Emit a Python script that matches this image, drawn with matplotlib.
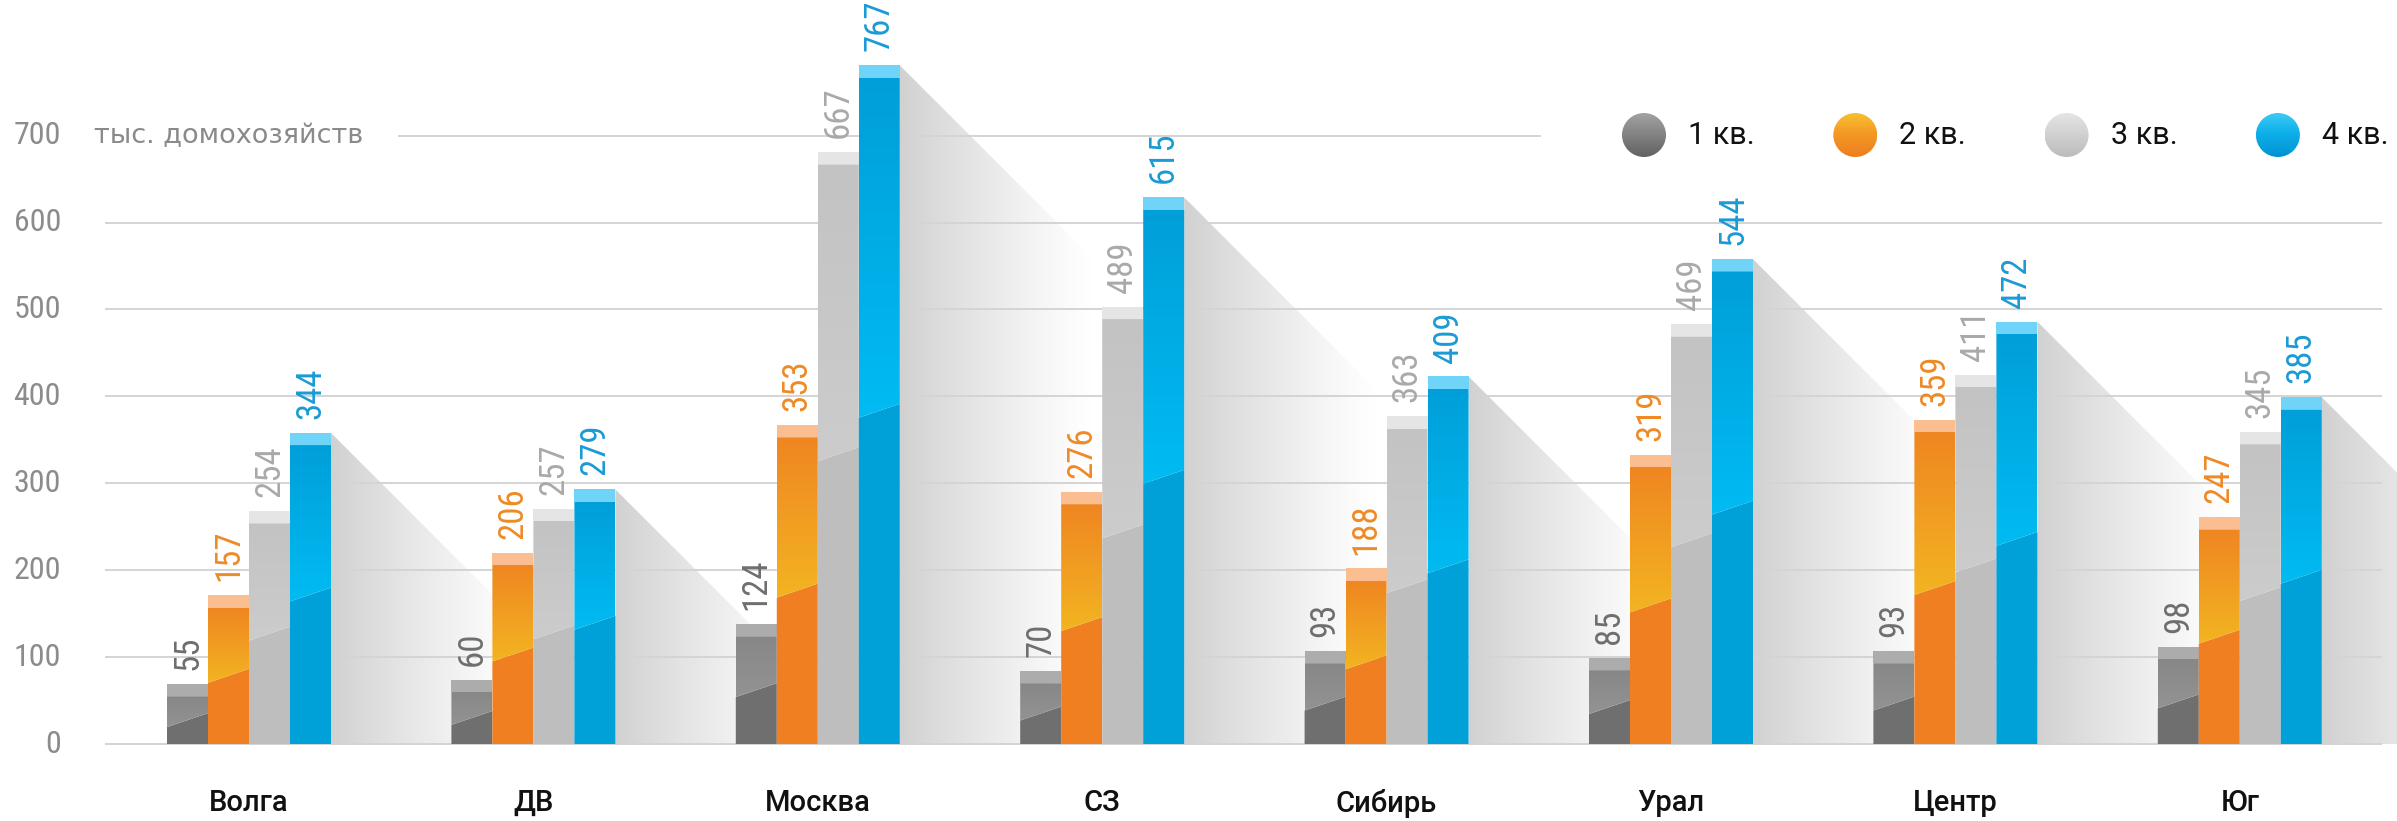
import numpy as np
import matplotlib
matplotlib.use("Agg")
import matplotlib.pyplot as plt
from matplotlib import font_manager as fm
from matplotlib.patches import Polygon, Ellipse, Rectangle
from matplotlib.colors import to_rgb

# ── Data ──────────────────────────────────────────────────────────────────────
regions = ["Волга", "ДВ", "Москва", "СЗ", "Сибирь", "Урал", "Центр", "Юг"]
q1 = [55, 60, 124, 70, 93, 85, 93, 98]
q2 = [157, 206, 353, 276, 188, 319, 359, 247]
q3 = [254, 257, 667, 489, 363, 469, 411, 345]
q4 = [344, 279, 767, 615, 409, 544, 472, 385]
series_names = ["1 кв.", "2 кв.", "3 кв.", "4 кв."]
y_ticks = [0, 100, 200, 300, 400, 500, 600, 700]
unit_label = "тыс. домохозяйств"

# ── Styles ────────────────────────────────────────────────────────────────────
STYLE = [
    dict(low="#6f6f6f", up_b="#939393", up_t="#878787", cap="#acacac",
         txt="#6e6e6e", sph=("#a2a2a2", "#858585", "#626262")),
    dict(low="#ef7f21", up_b="#f3b421", up_t="#ef8622", cap="#fbbe90",
         txt="#ef8a25", sph=("#f9c030", "#f39a25", "#ee7d1f")),
    dict(low="#bebebe", up_b="#cccccc", up_t="#c3c3c3", cap="#e5e5e5",
         txt="#a9a9a9", sph=("#e4e4e4", "#d2d2d2", "#bcbcbc")),
    dict(low="#00a0d9", up_b="#00bbf2", up_t="#009fd9", cap="#70d4f8",
         txt="#1a9ad5", sph=("#3ccaf5", "#0eb0ea", "#0092d3")),
]

# ── Geometry (pixels of the 2397x821 picture) ─────────────────────────────────
W_PX, H_PX = 2397, 821
X0_PX, GROUP_PX = 249, 284.4     # first group centre, group spacing
Y0_PX, UNIT_PX = 744, 0.869      # baseline, pixels per value unit


def px_x(p):
    return (p - X0_PX) / GROUP_PX


def px_y(p):
    return (Y0_PX - p) / UNIT_PX


BAR_W = 41 / GROUP_PX
CAP = 14            # light cap on top of each bar (value units)
SPLIT = 0.50        # diagonal shading split as share of bar height
RISE = 16           # diagonal rise across one bar (value units)
SLOPE = GROUP_PX / UNIT_PX   # 45 degrees on screen
FADE = 0.68         # shadow fade length (groups)


# ── Fonts ─────────────────────────────────────────────────────────────────────
def narrow_path():
    fl = fm.fontManager.ttflist
    for name in ["Liberation Sans Narrow", "Roboto Condensed",
                 "Open Sans Condensed", "DejaVu Sans Condensed"]:
        for f in fl:
            if f.name == name and f.style == "normal" and f.weight in (400, "normal", "regular", "book"):
                return f.fname
    for f in fl:
        if (f.stretch == "condensed" and f.style == "normal" and "Sans" in f.name
                and "Mono" not in f.name and f.weight in (400, "normal", "regular", "book")):
            return f.fname
    return None


NARROW = narrow_path()


def nfont(size):
    if NARROW:
        return fm.FontProperties(fname=NARROW, size=size)
    return fm.FontProperties(family="DejaVu Sans", size=size * 0.75)


# ── Drawing helpers ───────────────────────────────────────────────────────────
def vgrad(ax, x0, x1, y0, y1, c_top, c_bot, clip, z):
    n = 64
    t = np.linspace(0, 1, n)[:, None, None]
    arr = np.array(to_rgb(c_top))[None, None, :] * (1 - t) + np.array(to_rgb(c_bot))[None, None, :] * t
    im = ax.imshow(arr, extent=(x0, x1, y0, y1), origin="upper", aspect="auto",
                   interpolation="bilinear", zorder=z)
    im.set_clip_path(clip)


def draw_bar(ax, xc, v, st):
    x0, x1 = xc - BAR_W / 2, xc + BAR_W / 2
    b0, b1 = SPLIT * v - RISE / 2, SPLIT * v + RISE / 2
    ax.add_patch(Polygon([(x0, 0), (x1, 0), (x1, b1), (x0, b0)], closed=True,
                         facecolor=st["low"], edgecolor="none", zorder=3))
    upper = Polygon([(x0, b0), (x1, b1), (x1, v), (x0, v)], closed=True,
                    facecolor="none", edgecolor="none", transform=ax.transData)
    ax.add_patch(upper)
    vgrad(ax, x0, x1, b0, v, st["up_t"], st["up_b"], upper, 3)
    ax.add_patch(Rectangle((x0, v), BAR_W, CAP, facecolor=st["cap"],
                           edgecolor="none", zorder=3))
    ax.text(xc, v + CAP + 16, str(v), rotation=90, ha="center", va="bottom",
            color=st["txt"], fontproperties=nfont(25), zorder=6)


def draw_shadow(ax, xr, top):
    tri = Polygon([(xr, 0), (xr, top), (xr + top / SLOPE, 0)], closed=True,
                  facecolor="none", edgecolor="none", transform=ax.transData)
    ax.add_patch(tri)
    n = 128
    arr = np.zeros((1, n, 4))
    arr[..., :3] = 0.82
    arr[..., 3] = np.linspace(1, 0, n) ** 1.2
    im = ax.imshow(arr, extent=(xr, xr + FADE, 0, top), origin="upper",
                   aspect="auto", interpolation="bilinear", zorder=1)
    im.set_clip_path(tri)


def draw_sphere(ax, xc, yc, w, h, cols):
    n = 64
    t = np.linspace(0, 1, n)[:, None]
    light, mid, dark = (np.array(to_rgb(c)) for c in cols)
    col = np.where(t[..., None] < 0.45,
                   light + (mid - light) * (t[..., None] / 0.45),
                   mid + (dark - mid) * ((t[..., None] - 0.45) / 0.55))
    arr = np.repeat(col, n, axis=1)
    e = Ellipse((xc, yc), w, h, facecolor="none", edgecolor="none",
                transform=ax.transData)
    ax.add_patch(e)
    im = ax.imshow(arr, extent=(xc - w / 2, xc + w / 2, yc - h / 2, yc + h / 2),
                   origin="upper", aspect="auto", interpolation="bilinear", zorder=5)
    im.set_clip_path(e)


# ── Figure ────────────────────────────────────────────────────────────────────
fig = plt.figure(figsize=(W_PX / 100, H_PX / 100), dpi=100, facecolor="white")
ax = fig.add_axes([0, 0, 1, 1])
ax.set_axis_off()

series = [q1, q2, q3, q4]
offsets = [(j - 1.5) * BAR_W for j in range(4)]

# grid lines + tick labels
for t in y_ticks:
    xs = px_x(398) if t == 700 else px_x(105)
    xe = px_x(1541) if t == 700 else px_x(2382)
    ax.plot([xs, xe], [t, t], color="#d4d4d4", lw=1.4, zorder=2,
            solid_capstyle="butt")
    ax.text(px_x(61), t, str(t), ha="right", va="center", color="#8c8c8c",
            fontproperties=nfont(23), zorder=6)

ax.text(px_x(94), 700, unit_label, ha="left", va="center", color="#8a8a8a",
        fontsize=19.5, family="DejaVu Sans", zorder=6)

for i, name in enumerate(regions):
    draw_shadow(ax, i + offsets[3] + BAR_W / 2, q4[i] + CAP)
    for j, vals in enumerate(series):
        draw_bar(ax, i + offsets[j], vals[i], STYLE[j])
    ax.text(i, px_y(803), name, ha="center", va="center", color="#111111",
            fontsize=21, family=["Roboto", "DejaVu Sans"], fontweight="medium",
            zorder=6)

# legend
sw, sh = 44 / GROUP_PX, 44 / UNIT_PX
for j, lab in enumerate(series_names):
    cx = px_x(1644 + 211.3 * j)
    draw_sphere(ax, cx, px_y(135), sw, sh, STYLE[j]["sph"])
    ax.text(cx + 44 / GROUP_PX, px_y(135), lab, ha="left", va="center",
            color="#111111", fontsize=22, family=["Roboto", "DejaVu Sans"],
            zorder=6)

ax.set_xlim(px_x(0), px_x(W_PX))
ax.set_ylim(px_y(H_PX), px_y(0))

fig.savefig("out.png", dpi=100, facecolor="white")
